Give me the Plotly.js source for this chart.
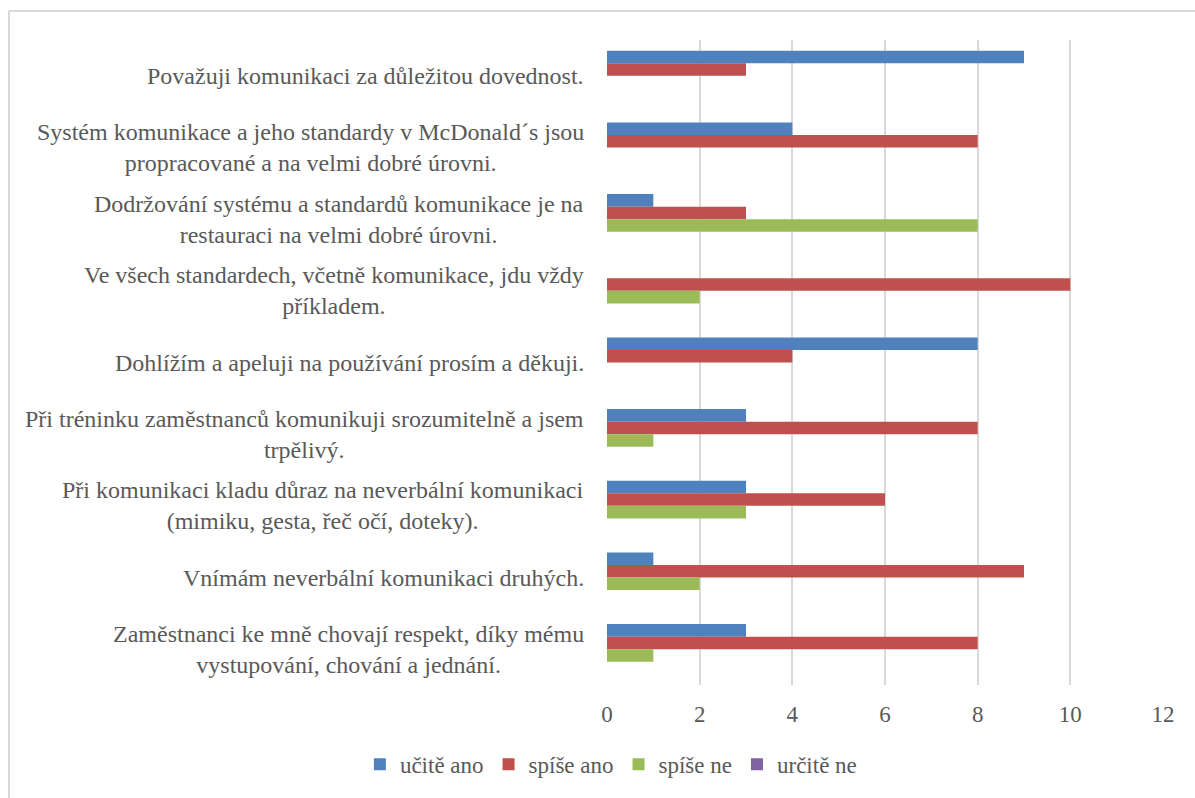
<!DOCTYPE html>
<html>
<head>
<meta charset="utf-8">
<script src="https://cdn.plot.ly/plotly-3.0.1.min.js"></script>
</head>
<body style="margin:0;padding:0;background:#ffffff">
<div id="chart"></div>
<script>
const categories = [
  "Považuji komunikaci za důležitou dovednost.",
  "Systém komunikace a jeho standardy v McDonald´s jsou<br>propracované a na velmi dobré úrovni.",
  "Dodržování systému a standardů komunikace je na<br>restauraci na velmi dobré úrovni.",
  "Ve všech standardech, včetně komunikace, jdu vždy<br>příkladem.",
  "Dohlížím a apeluji na používání prosím a děkuji.",
  "Při tréninku zaměstnanců komunikuji srozumitelně a jsem<br>trpělivý.",
  "Při komunikaci kladu důraz na neverbální komunikaci<br>(mimiku, gesta, řeč očí, doteky).",
  "Vnímám neverbální komunikaci druhých.",
  "Zaměstnanci ke mně chovají respekt, díky mému<br>vystupování, chování a jednání."
];
const seriesNames = ["učitě ano", "spíše ano", "spíše ne", "určitě ne"];
const ucitAno  = [9, 4, 1, 0, 8, 3, 3, 1, 3];
const spiseAno = [3, 8, 3, 10, 4, 8, 6, 9, 8];
const spiseNe  = [0, 0, 8, 2, 0, 1, 3, 2, 1];
const urciteNe = [0, 0, 0, 0, 0, 0, 0, 0, 0];
const xTicks = [0, 2, 4, 6, 8, 10, 12];

const barColors = ["#4F81BD", "#C0504D", "#9BBB59", "#8064A2"];
const seriesValues = [ucitAno, spiseAno, spiseNe, urciteNe];
const FAMILY = "Liberation Serif";
const TXT = "#595959";

const traces = seriesValues.map((v, i) => ({
  type: "bar",
  orientation: "h",
  name: seriesNames[i],
  x: v,
  y: categories,
  marker: {color: barColors[i]},
  hoverinfo: "x+name"
}));

const labelAnnotations = categories.map(c => ({
  x: 0, xref: "x", xanchor: "right", xshift: -21,
  y: c, yref: "y", yanchor: "middle",
  text: c, showarrow: false, align: "center",
  font: {family: FAMILY, size: 24, color: TXT}
}));

const frameLine = {color: "#d9d9d9", width: 2};
const layout = {
  width: 1195, height: 798,
  margin: {l: 607, r: 32, t: 40, b: 110},
  paper_bgcolor: "#ffffff",
  plot_bgcolor: "#ffffff",
  barmode: "group",
  bargap: 0.3,
  bargroupgap: 0,
  showlegend: true,
  font: {family: FAMILY, color: TXT, size: 24},
  legend: {
    orientation: "h", x: 0.007, xanchor: "center", y: -0.123, yanchor: "middle",
    font: {family: FAMILY, size: 23, color: TXT},
    traceorder: "normal", itemwidth: 30
  },
  xaxis: {
    range: [0, 12], tickvals: xTicks, ticktext: xTicks.map(String),
    showgrid: true, gridcolor: "#d9d9d9", gridwidth: 2,
    zeroline: false, showline: false,
    ticks: "outside", ticklen: 8, tickcolor: "rgba(0,0,0,0)",
    tickfont: {family: FAMILY, size: 23, color: TXT}
  },
  yaxis: {
    type: "category", autorange: "reversed",
    showticklabels: false, showgrid: false, zeroline: false, showline: false
  },
  shapes: [
    {type: "line", xref: "paper", yref: "paper", x0: -1.0755, x1: 1.07, y0: 1.0448, y1: 1.0448, line: frameLine},
    {type: "line", xref: "paper", yref: "paper", x0: -1.0755, x1: -1.0755, y0: 1.0448, y1: -0.18, line: frameLine}
  ],
  annotations: labelAnnotations
};

Plotly.newPlot("chart", traces, layout, {displayModeBar: false});
</script>
</body>
</html>
